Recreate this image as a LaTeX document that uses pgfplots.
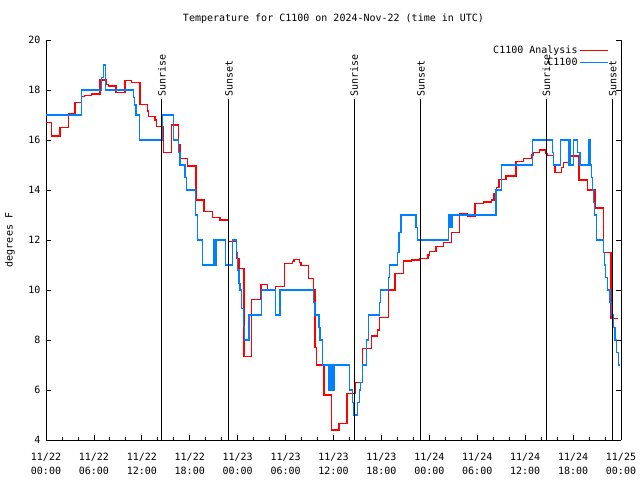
\documentclass[border=0pt]{standalone}
\usepackage{pgfplots}
\pgfplotsset{compat=1.18}
\usepackage{fontspec}
\setmainfont{DejaVu Sans Mono}
\definecolor{anared}{RGB}{255,0,0}
\definecolor{obsblue}{RGB}{0,128,255}
\begin{document}
\fontsize{10pt}{12pt}\selectfont
\begin{tikzpicture}
\begin{axis}[
  name=ax,
  scale only axis,
  width=575pt, height=400pt,
  xmin=0, xmax=72, ymin=4, ymax=20,
  axis x line=bottom, axis y line=box,
  axis line style={-, line width=0.8pt},
  xtick={0,6,...,72},
  xticklabels={11/22\\00:00,11/22\\06:00,11/22\\12:00,11/22\\18:00,11/23\\00:00,11/23\\06:00,11/23\\12:00,11/23\\18:00,11/24\\00:00,11/24\\06:00,11/24\\12:00,11/24\\18:00,11/25\\00:00},
  minor x tick num=2,
  ytick={4,6,...,20},
  tick align=inside,
  major tick length=5pt, minor tick length=3pt,
  tick style={line width=0.8pt, black},
  xticklabel style={align=center, yshift=-10pt, font=\fontsize{10pt}{14pt}\selectfont},
  yticklabel style={font=\fontsize{10pt}{12pt}\selectfont, xshift=-2pt},
  /pgf/number format/assume math mode=true,
  ylabel={degrees F},
  every axis y label/.style={at={(rel axis cs:0,0.5)}, xshift=-36pt, rotate=90, anchor=center},
  title={Temperature for C1100 on 2024-Nov-22 (time in UTC)},
  every axis title/.style={at={(0.5,1)}, anchor=center, yshift=21pt},
  legend style={draw=none, fill=none, at={(rel axis cs:0.979,0.99)}, anchor=north east, inner sep=0pt, row sep=-1pt, font=\fontsize{10pt}{12pt}\selectfont},
  legend plot pos=right,
  legend cell align=right,
  legend image code/.code={\draw[#1] (0pt,0pt) -- (28pt,0pt);},
  clip=true,
]
\addplot[const plot, anared, line width=1.2pt] coordinates {
(0,16.69) (0.71,16.16) (1.75,16.5) (2.79,17.07) (3.63,17.49) (4.47,17.73) (4.80,17.77) (5.72,17.84)
(6.76,18.4) (7.51,18.23) (7.80,18.16) (8.77,17.9) (9.89,18.37) (10.73,18.3) (11.77,17.43) (12.68,17.16)
(12.81,16.93) (13.65,16.8) (13.86,16.53) (14.71,15.5) (15.7,16.6) (16.57,15.8) (16.78,15.27) (17.69,14.96)
(18.78,13.6) (19.78,13.13) (20.82,12.89) (21.79,12.8) (22.83,11.93) (23.88,11.27) (24.17,10.87) (24.80,7.33)
(25.73,9.63) (26.92,10.23) (27.71,10.0) (28.76,10.13) (29.86,11.07) (30.87,11.15) (31.05,11.23) (31.74,11.1)
(31.93,10.97) (32.87,10.47) (33.5,10.0) (33.68,7.7) (33.90,7.0) (34.81,5.8) (35.78,4.4) (36.69,4.67)
(37.69,5.86) (38.69,6.29) (39.66,7.67) (40.78,8.16) (41.48,8.4) (41.74,8.91) (42.86,10.0) (43.70,10.67)
(44.74,11.16) (45.79,11.2) (46.74,11.27) (47.83,11.4) (48.0,11.53) (48.84,11.73) (49.75,11.91) (50.80,12.31)
(51.75,13.07) (52.75,12.95) (53.72,13.47) (54.76,13.52) (55.78,13.6) (56.1,13.84) (56.41,14.1) (56.73,14.43)
(57.6,14.56) (58.85,15.13) (59.77,15.27) (60.82,15.4) (61.02,15.51) (61.77,15.6) (62.61,15.45) (62.77,15.37)
(63.52,15.0) (63.74,14.69) (64.58,14.9) (64.78,15.09) (65.49,15.2) (65.70,15.36) (66.74,14.4) (67.78,14.0)
(68.75,13.28) (69.79,11.51) (70.75,8.87) (71.66,8.87)
};
\addlegendentry{C1100 Analysis}
\addplot[const plot, obsblue, line width=1.2pt] coordinates {
(0,17.0) (4.45,18.0) (6.95,18.5) (7.18,19.0) (7.45,18.0) (10.93,17.7) (11.1,17.4) (11.27,17.0)
(11.67,16.0) (14.59,17.0) (15.94,16.0) (16.59,15.5) (16.78,15.0) (17.41,14.5) (17.62,14.0) (18.75,13.0)
(18.95,12.0) (19.62,11.0) (20.95,12.0) (21.17,11.0) (21.38,12.0) (22.50,11.0) (23.33,12.0) (23.88,11.5)
(24.0,10.8) (24.17,10.27) (24.29,10.0) (24.5,9.27) (24.71,8.53) (24.83,8.0) (25.42,9.0) (26.98,10.0)
(28.76,9.0) (29.3,10.0) (33.47,9.5) (33.68,9.0) (34.19,8.5) (34.31,8.0) (34.6,7.0) (35.44,6.0)
(35.56,7.0) (35.69,6.0) (35.81,7.0) (35.94,6.0) (36.06,7.0) (37.98,6.0) (38.35,5.5) (38.48,5.0)
(38.98,5.5) (39.23,6.0) (39.4,6.3) (39.66,7.0) (40.16,8.0) (40.36,9.0) (41.74,9.5) (41.92,10.0)
(42.86,10.5) (42.99,11.0) (43.99,11.5) (44.2,12.3) (44.45,13.0) (46.33,12.5) (46.54,12.0) (50.37,13.0)
(50.5,12.5) (50.62,13.0) (50.72,12.5) (50.85,13.0) (56.35,14.0) (57.06,15.0) (60.94,16.0) (63.45,15.5)
(63.52,15.0) (64.45,16.0) (65.39,15.0) (65.52,16.0) (65.64,15.0) (66.03,16.0) (66.53,15.5) (66.87,15.0)
(67.91,16.0) (68.12,15.0) (68.33,14.5) (68.46,14.0) (68.53,13.5) (68.71,13.0) (68.96,12.0) (69.79,11.5)
(69.92,11.0) (70.1,10.5) (70.3,10.0) (70.63,9.5) (70.84,9.0) (71.0,8.5) (71.25,8.0) (71.47,7.5)
(71.67,7.0) (71.82,7.0)
};
\addlegendentry{C1100}
\addplot[black, line width=1pt, forget plot] coordinates {(14.5,4) (14.5,17.64)};
\addplot[black, line width=1pt, forget plot] coordinates {(22.9,4) (22.9,17.64)};
\addplot[black, line width=1pt, forget plot] coordinates {(38.58,4) (38.58,17.64)};
\addplot[black, line width=1pt, forget plot] coordinates {(46.95,4) (46.95,17.64)};
\addplot[black, line width=1pt, forget plot] coordinates {(62.65,4) (62.65,17.64)};
\addplot[black, line width=1pt, forget plot] coordinates {(70.95,4) (70.95,17.64)};
\node[rotate=90, anchor=west, inner sep=1pt] at (axis cs:14.5,17.7) {Sunrise};
\node[rotate=90, anchor=west, inner sep=1pt] at (axis cs:22.9,17.7) {Sunset};
\node[rotate=90, anchor=west, inner sep=1pt] at (axis cs:38.58,17.7) {Sunrise};
\node[rotate=90, anchor=west, inner sep=1pt] at (axis cs:46.95,17.7) {Sunset};
\node[rotate=90, anchor=west, inner sep=1pt] at (axis cs:62.65,17.7) {Sunrise};
\node[rotate=90, anchor=west, inner sep=1pt] at (axis cs:70.95,17.7) {Sunset};
\end{axis}
\pgfresetboundingbox
\path[use as bounding box] ([xshift=-46pt,yshift=-40pt]ax.south west) rectangle ([xshift=19pt,yshift=40pt]ax.north east);
\end{tikzpicture}
\end{document}
